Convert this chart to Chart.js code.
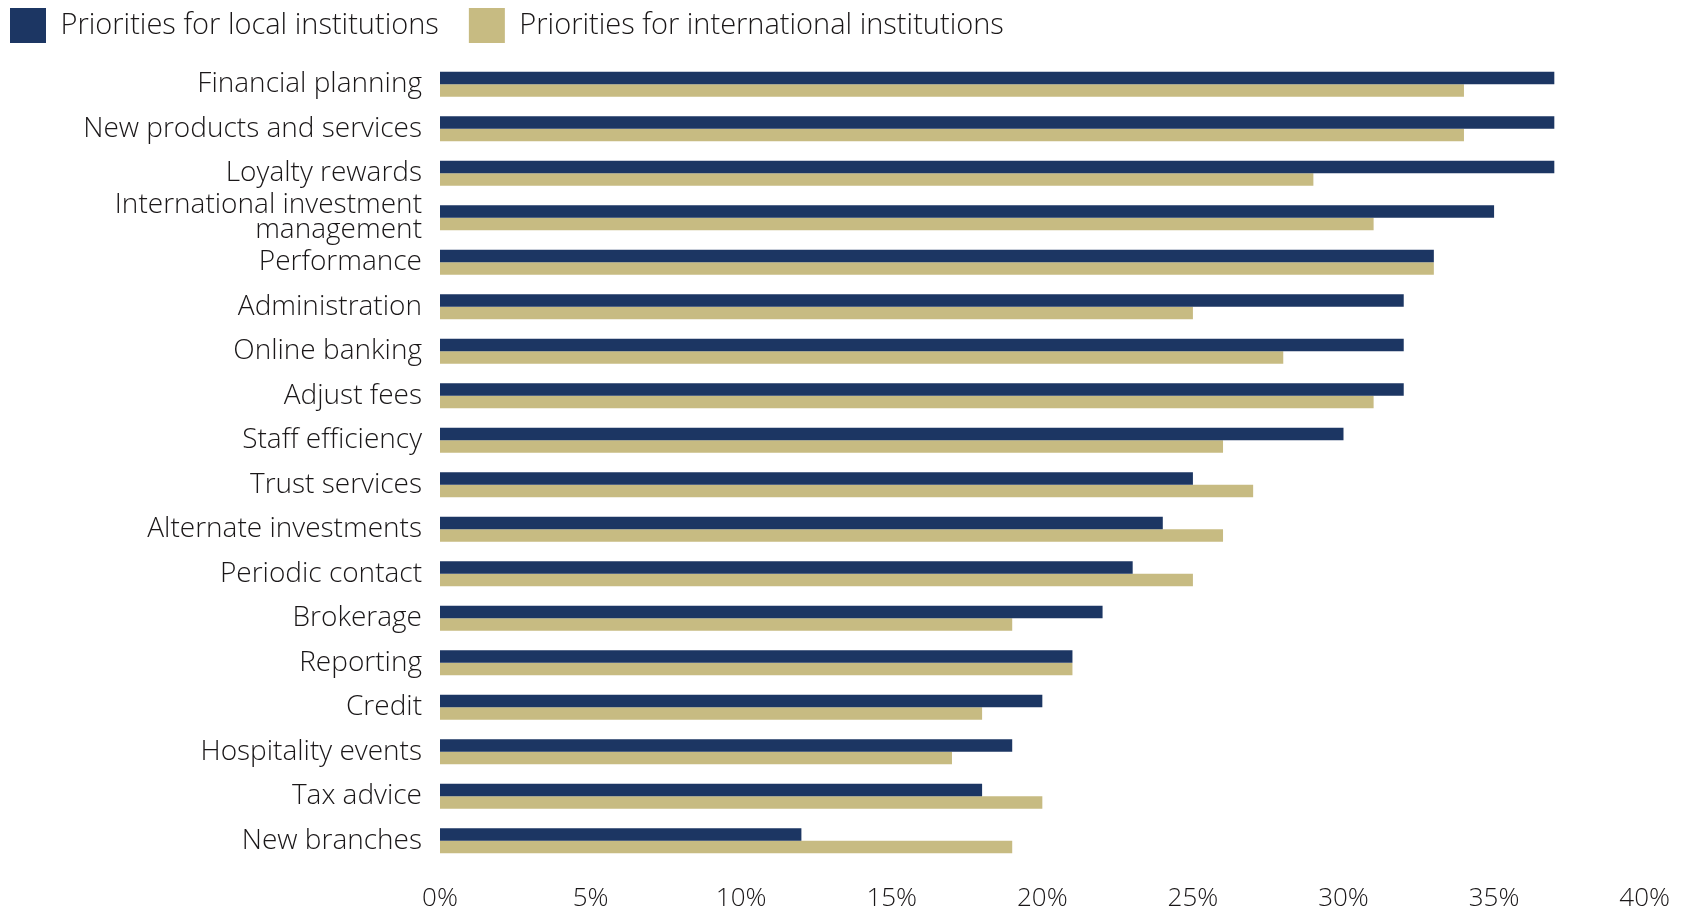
<!DOCTYPE html>
<html>
<head>
<meta charset="utf-8">
<script src="https://cdn.jsdelivr.net/npm/chart.js@4.4.1/dist/chart.umd.min.js"></script>
<style>
  html, body { margin: 0; padding: 0; background: #fff; overflow: hidden; }
  #wrap { position: absolute; left: -20px; top: -22px; width: 1710px; height: 936px; }
</style>
</head>
<body>
<div id="wrap"><canvas id="grafico"></canvas></div>
<script>
// categorias e valores (%)
const categorias = [
    'Financial planning',
    'New products and services',
    'Loyalty rewards',
    ['International investment', 'management'],
    'Performance',
    'Administration',
    'Online banking',
    'Adjust fees',
    'Staff efficiency',
    'Trust services',
    'Alternate investments',
    'Periodic contact',
    'Brokerage',
    'Reporting',
    'Credit',
    'Hospitality events',
    'Tax advice',
    'New branches'
];
const locais = [37, 37, 37, 35, 33, 32, 32, 32, 30, 25, 24, 23, 22, 21, 20, 19, 18, 12];
const internacionais = [34, 34, 29, 31, 33, 25, 28, 31, 26, 27, 26, 25, 19, 21, 18, 17, 20, 19];
const ticksX = [0, 5, 10, 15, 20, 25, 30, 35, 40];

const AZUL = '#1c3663';
const AREIA = '#c7bb82';
const TEXTO = '#1a1718';
const FONTE = '"Open Sans", "Noto Sans", sans-serif';

// altura fixa da legenda para alinhar a area do grafico
const alturaLegenda = {
    id: 'alturaLegenda',
    beforeInit(chart) {
        const fitOriginal = chart.legend.fit;
        chart.legend.fit = function () {
            fitOriginal.bind(chart.legend)();
            this.height = 84;
        };
    }
};

const ctx = document.getElementById('grafico').getContext('2d');
new Chart(ctx, {
    type: 'bar',
    data: {
        labels: categorias,
        datasets: [
            {
                label: 'Priorities for local institutions',
                data: locais,
                backgroundColor: AZUL,
                categoryPercentage: 0.56,
                barPercentage: 1.0
            },
            {
                label: 'Priorities for international institutions',
                data: internacionais,
                backgroundColor: AREIA,
                categoryPercentage: 0.56,
                barPercentage: 1.0
            }
        ]
    },
    options: {
        indexAxis: 'y',
        responsive: true,
        maintainAspectRatio: false,
        animation: false,
        layout: { padding: { left: 0, right: 43, top: 0, bottom: 0 } },
        plugins: {
            tooltip: { enabled: false },
            legend: {
                position: 'top',
                align: 'start',
                labels: {
                    boxWidth: 36,
                    boxHeight: 35,
                    padding: 30,
                    color: TEXTO,
                    font: { family: FONTE, size: 29, weight: 300 }
                }
            }
        },
        scales: {
            x: {
                min: 0,
                max: 40,
                afterBuildTicks: (scale) => { scale.ticks = ticksX.map(v => ({ value: v })); },
                afterFit: (scale) => { scale.height = 51; },
                grid: { display: false, drawTicks: false },
                border: { display: false },
                ticks: {
                    padding: 20,
                    color: TEXTO,
                    font: { family: FONTE, size: 26, weight: 300 },
                    callback: (v) => v + '%'
                }
            },
            y: {
                afterFit: (scale) => { scale.width = 460; },
                grid: { display: false, drawTicks: false },
                border: { display: false },
                ticks: {
                    padding: 18,
                    color: TEXTO,
                    autoSkip: false,
                    font: { family: FONTE, size: 28, weight: 300, lineHeight: 0.89 }
                }
            }
        }
    },
    plugins: [alturaLegenda]
});
</script>
</body>
</html>
